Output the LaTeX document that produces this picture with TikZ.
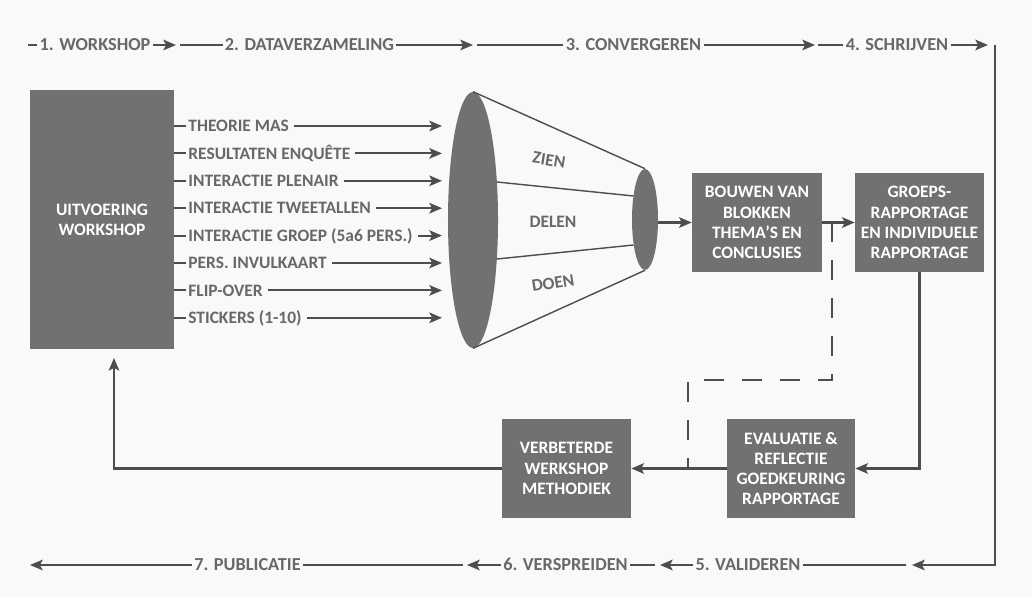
\documentclass[tikz,border=0pt]{standalone}
\usepackage{fontspec}
\setmainfont{Carlito}
\usetikzlibrary{arrows.meta,shapes.geometric}
\definecolor{boxgray}{HTML}{717171}
\definecolor{txtgray}{HTML}{686868}
\definecolor{linegray}{HTML}{4D4D4D}
\definecolor{bggray}{HTML}{F9F9F9}
\begin{document}
\begin{tikzpicture}[x=0.025cm,y=-0.025cm,
  lbl/.style={text=txtgray,font=\bfseries\fontsize{12.4}{14.5}\selectfont,inner sep=1.5pt,text height=8pt,text depth=0pt},
  phase/.style={lbl,font=\bfseries\fontsize{13}{15}\selectfont,text height=8.4pt},
  boxnode/.style={fill=boxgray,text=white,font=\bfseries\fontsize{12.4}{14.3}\selectfont,align=center,inner sep=0pt},
  conn/.style={draw=linegray,line width=1.5pt},
  arr/.style={conn,-{Stealth[length=9pt,width=7.5pt,inset=2pt]}},
  cone/.style={draw=linegray,line width=1pt},
  dashline/.style={draw=linegray,line width=1.5pt,dash pattern=on 14pt off 13pt},
  funnel/.style={ellipse,fill=boxgray,inner sep=0pt}
]
\fill[bggray] (0,0) rectangle (1032,597);
\useasboundingbox (0,0) rectangle (1032,597);

% ---------- top phase row ----------
\node[phase] (s1) at (95,45) {1. WORKSHOP};
\node[phase] (s2) at (309.5,45) {2. DATAVERZAMELING};
\node[phase] (s3) at (633.5,45) {3. CONVERGEREN};
\node[phase] (s4) at (897,45) {4. SCHRIJVEN};
\coordinate (t0) at (28,45);
\coordinate (t1) at (176,45);
\coordinate (t2) at (180,45);
\coordinate (t3) at (473,45);
\coordinate (t4) at (477,45);
\coordinate (t5) at (815,45);
\coordinate (t6) at (818,45);
\coordinate (t7) at (988,45);
\draw[conn] (t0) -- (s1.west);
\draw[arr] (s1.east) -- (t1);
\draw[conn] (t2) -- (s2.west);
\draw[arr] (s2.east) -- (t3);
\draw[conn] (t4) -- (s3.west);
\draw[arr] (s3.east) -- (t5);
\draw[conn] (t6) -- (s4.west);
\draw[arr] (s4.east) -- (t7);

% ---------- right side and bottom phase row ----------
\coordinate (rc1) at (995,45);
\coordinate (rc2) at (995,565);
\coordinate (b1) at (912,565);
\coordinate (b2) at (906,565);
\coordinate (b3) at (660,565);
\coordinate (b4) at (655,565);
\coordinate (b5) at (467,565);
\coordinate (b6) at (463,565);
\coordinate (b7) at (30,565);
\node[phase] (s5) at (748,565) {5. VALIDEREN};
\node[phase] (s6) at (565.5,565) {6. VERSPREIDEN};
\node[phase] (s7) at (247.5,565) {7. PUBLICATIE};
\draw[arr] (rc1) -- (rc2) -- (b1);
\draw[conn] (b2) -- (s5.east);
\draw[arr] (s5.west) -- (b3);
\draw[conn] (b4) -- (s6.east);
\draw[arr] (s6.west) -- (b5);
\draw[conn] (b6) -- (s7.east);
\draw[arr] (s7.west) -- (b7);

% ---------- workshop box and inputs ----------
\node[boxnode,minimum width=3.6cm,minimum height=6.475cm] (uit) at (102,219.5) {UITVOERING\\WORKSHOP};
\foreach \t [count=\i] in {THEORIE MAS,RESULTATEN ENQUÊTE,INTERACTIE PLENAIR,INTERACTIE TWEETALLEN,INTERACTIE GROEP (5a6 PERS.),PERS. INVULKAART,FLIP-OVER,STICKERS (1-10)}{
  \pgfmathsetmacro{\yy}{126+27.4*(\i-1)}
  \node[lbl,anchor=west] (in\i) at (186,\yy) {\t};
  \coordinate (it\i) at (442,\yy);
  \draw[conn] (uit.east |- in\i.west) -- (in\i.west);
  \draw[arr,shorten <=2pt] (in\i.east) -- (it\i);
}

% ---------- funnel ----------
\node[funnel,minimum width=1.25cm,minimum height=6.4cm] (big) at (473,220) {};
\node[funnel,minimum width=0.65cm,minimum height=2.525cm] (small) at (645,219.5) {};
\coordinate (f1) at (497,182);
\coordinate (f2) at (633.5,196);
\coordinate (f3) at (497,259);
\coordinate (f4) at (633.5,245);
\draw[cone] (big.north) -- (small.north);
\draw[cone] (big.south) -- (small.south);
\draw[cone] (f1) -- (f2);
\draw[cone] (f3) -- (f4);
\node[lbl,rotate=-9] (zien) at (549,160) {ZIEN};
\node[lbl] (delen) at (553,222) {DELEN};
\node[lbl,rotate=9] (doen) at (553,283) {DOEN};

% ---------- process boxes ----------
\node[boxnode,minimum width=3.25cm,minimum height=2.475cm] (bouw) at (757,222.5) {BOUWEN VAN\\BLOKKEN\\THEMA’S EN\\CONCLUSIES};
\node[boxnode,minimum width=3.225cm,minimum height=2.475cm] (groep) at (919.5,222.5) {GROEPS-\\RAPPORTAGE\\EN INDIVIDUELE\\RAPPORTAGE};
\node[boxnode,minimum width=3.2cm,minimum height=2.475cm] (eval) at (791,468.5) {EVALUATIE \&\\REFLECTIE\\GOEDKEURING\\RAPPORTAGE};
\node[boxnode,minimum width=3.225cm,minimum height=2.475cm] (verb) at (566.5,468.5) {VERBETERDE\\WERKSHOP\\METHODIEK};

\draw[arr] (small.east |- bouw.west) -- (bouw.west);
\draw[arr] (bouw.east) -- (groep.west);
\coordinate (d1) at (832,222.5);
\coordinate (d2) at (832,380);
\coordinate (d3) at (688,380);
\coordinate (d4) at (688,468.5);
\draw[dashline] (d1) -- (d2) -- (d3) -- (d4);
\draw[arr] (groep.south) |- (eval.east);
\draw[arr] (eval.west) -- (verb.east);
\coordinate (up) at (114,358);
\draw[arr] (verb.west) -| (up);
\end{tikzpicture}
\end{document}
